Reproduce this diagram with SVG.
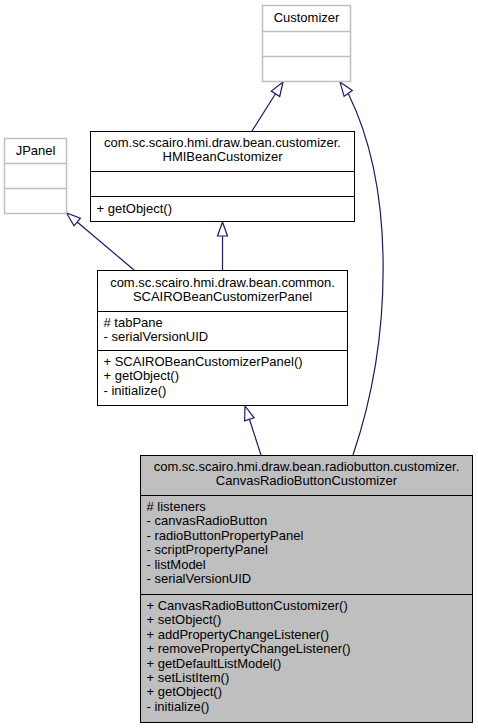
<svg xmlns="http://www.w3.org/2000/svg" width="478" height="728" viewBox="0 0 478 728">
<style>
text{font-family:"Liberation Sans",Arial,sans-serif;font-size:13px;fill:#000}
.c{text-anchor:middle}
.box{fill:#fff;stroke:#000;stroke-width:1}
.ext{fill:#fff;stroke:#bfbfbf;stroke-width:1.5}
.cur{fill:#bfbfbf;stroke:#000;stroke-width:1}
.dl{stroke:#000;stroke-width:1}
.dle{stroke:#bfbfbf;stroke-width:1.5}
.e{fill:none;stroke:#191970;stroke-width:1.2}
.ah{fill:#fff;stroke:#191970;stroke-width:1.2}
</style>
<rect width="478" height="728" fill="#fff"/>
<g id="edges">
<path class="e" d="M252,131 L275.5,93.8"/>
<polygon class="ah" points="283,82 279.7,96.5 271.3,91.1"/>
<path class="e" d="M353,455 C392,340 396,190 348.2,93.4"/>
<polygon class="ah" points="340,82 352.3,90.5 344.1,96.3"/>
<path class="e" d="M222.5,270 L222.5,236"/>
<polygon class="ah" points="222.5,222 217.5,236 227.5,236"/>
<path class="e" d="M134,270 L77.2,222"/>
<polygon class="ah" points="66.5,213 74,225.8 80.4,218.2"/>
<path class="e" d="M261,455 L249.4,419.3"/>
<polygon class="ah" points="245,406 254.1,417.8 244.6,420.9"/>
</g>
<g id="Customizer">
<rect class="ext" x="262.5" y="5.5" width="88" height="76"/>
<line class="dle" x1="262.5" y1="31.5" x2="350.5" y2="31.5"/>
<line class="dle" x1="262.5" y1="56.5" x2="350.5" y2="56.5"/>
<text class="c" x="306.5" y="22">Customizer</text>
</g>
<g id="JPanel">
<rect class="ext" x="4.5" y="138.5" width="62" height="75"/>
<line class="dle" x1="4.5" y1="163.5" x2="66.5" y2="163.5"/>
<line class="dle" x1="4.5" y1="188.5" x2="66.5" y2="188.5"/>
<text class="c" x="35.5" y="155">JPanel</text>
</g>
<g id="HMIBeanCustomizer">
<rect class="box" x="90.5" y="131.5" width="264" height="90"/>
<line class="dl" x1="90.5" y1="171.5" x2="354.5" y2="171.5"/>
<line class="dl" x1="90.5" y1="196.5" x2="354.5" y2="196.5"/>
<text class="c" x="222.5" y="147">com.sc.scairo.hmi.draw.bean.customizer.</text>
<text class="c" x="222.5" y="161.4">HMIBeanCustomizer</text>
<text x="96.5" y="212.5">+ getObject()</text>
</g>
<g id="SCAIROBeanCustomizerPanel">
<rect class="box" x="97.5" y="270.5" width="250" height="135"/>
<line class="dl" x1="97.5" y1="311.5" x2="347.5" y2="311.5"/>
<line class="dl" x1="97.5" y1="350.5" x2="347.5" y2="350.5"/>
<text class="c" x="222.5" y="286.5">com.sc.scairo.hmi.draw.bean.common.</text>
<text class="c" x="222.5" y="300.9">SCAIROBeanCustomizerPanel</text>
<text x="103.5" y="327">#&#160;tabPane</text>
<text x="103.5" y="341.4">- serialVersionUID</text>
<text x="103.5" y="366">+ SCAIROBeanCustomizerPanel()</text>
<text x="103.5" y="380.4">+ getObject()</text>
<text x="103.5" y="394.8">- initialize()</text>
</g>
<g id="CanvasRadioButtonCustomizer">
<rect class="cur" x="140.5" y="455.5" width="332" height="267"/>
<line class="dl" x1="140.5" y1="495.5" x2="472.5" y2="495.5"/>
<line class="dl" x1="140.5" y1="594.5" x2="472.5" y2="594.5"/>
<text class="c" x="306.5" y="471">com.sc.scairo.hmi.draw.bean.radiobutton.customizer.</text>
<text class="c" x="306.5" y="485.4">CanvasRadioButtonCustomizer</text>
<text x="146.5" y="511">#&#160;listeners</text>
<text x="146.5" y="525.4">- canvasRadioButton</text>
<text x="146.5" y="539.8">- radioButtonPropertyPanel</text>
<text x="146.5" y="554.2">- scriptPropertyPanel</text>
<text x="146.5" y="568.6">- listModel</text>
<text x="146.5" y="583">- serialVersionUID</text>
<text x="146.5" y="610">+ CanvasRadioButtonCustomizer()</text>
<text x="146.5" y="624.4">+ setObject()</text>
<text x="146.5" y="638.8">+ addPropertyChangeListener()</text>
<text x="146.5" y="653.2">+ removePropertyChangeListener()</text>
<text x="146.5" y="667.6">+ getDefaultListModel()</text>
<text x="146.5" y="682">+ setListItem()</text>
<text x="146.5" y="696.4">+ getObject()</text>
<text x="146.5" y="710.8">- initialize()</text>
</g>
</svg>
